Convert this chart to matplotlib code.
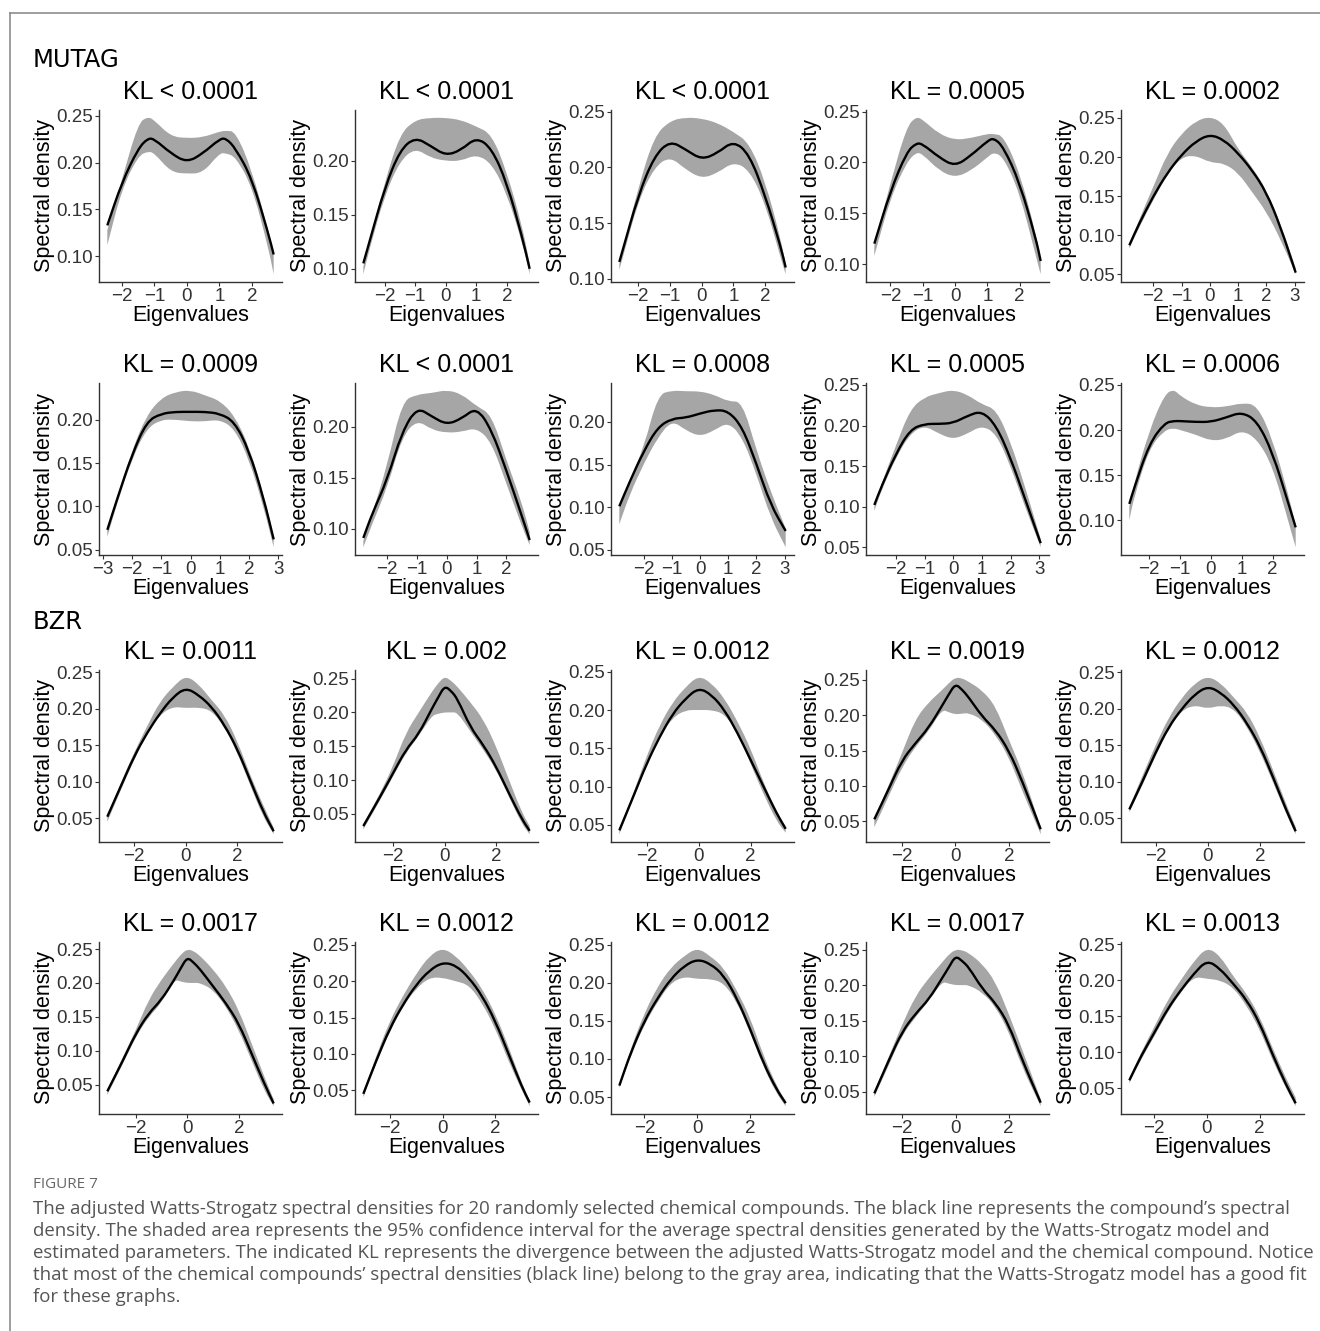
import matplotlib
matplotlib.use("Agg")
import matplotlib.pyplot as plt
from matplotlib.ticker import FormatStrFormatter
from matplotlib.lines import Line2D
from matplotlib.path import Path
from matplotlib.patches import PathPatch

# ---- MUTAG panels (rows 1-2) ----
mutag_titles = ["KL < 0.0001", "KL < 0.0001", "KL < 0.0001", "KL = 0.0005", "KL = 0.0002",
                "KL = 0.0009", "KL < 0.0001", "KL = 0.0008", "KL = 0.0005", "KL = 0.0006"]
mutag_xticks = [[-2, -1, 0, 1, 2], [-2, -1, 0, 1, 2], [-2, -1, 0, 1, 2], [-2, -1, 0, 1, 2],
                [-2, -1, 0, 1, 2, 3], [-3, -2, -1, 0, 1, 2, 3], [-2, -1, 0, 1, 2],
                [-2, -1, 0, 1, 2, 3], [-2, -1, 0, 1, 2, 3], [-2, -1, 0, 1, 2]]
mutag_yticks = [[0.10, 0.15, 0.20, 0.25], [0.10, 0.15, 0.20], [0.10, 0.15, 0.20, 0.25],
                [0.10, 0.15, 0.20, 0.25], [0.05, 0.10, 0.15, 0.20, 0.25], [0.05, 0.10, 0.15, 0.20],
                [0.10, 0.15, 0.20], [0.05, 0.10, 0.15, 0.20], [0.05, 0.10, 0.15, 0.20, 0.25],
                [0.10, 0.15, 0.20, 0.25]]
mutag_x = [
    [-2.45, -2, -1.5, -1.2, -1, -0.5, 0, 0.5, 1, 1.2, 1.5, 2, 2.5, 2.67],
    [-2.7, -2.5, -2, -1.5, -1, -0.5, 0, 0.5, 1, 1.5, 2, 2.5, 2.75],
    [-2.6, -2.5, -2, -1.5, -1, -0.5, 0, 0.5, 1, 1.5, 2, 2.5, 2.65],
    [-2.5, -2, -1.5, -1.2, -1, -0.5, 0, 0.5, 1, 1.2, 1.5, 2, 2.5, 2.65],
    [-2.85, -2.5, -2, -1.5, -1, -0.5, 0, 0.5, 1, 1.5, 2, 2.5, 3.04],
    [-2.85, -2.5, -2, -1.5, -1, -0.5, 0, 0.5, 1, 1.5, 2, 2.5, 2.85],
    [-2.8, -2.5, -2, -1.5, -1, -0.5, 0, 0.5, 1, 1.5, 2, 2.5, 2.78],
    [-2.87, -2.5, -2, -1.5, -1, -0.5, 0, 0.5, 1, 1.5, 2, 2.5, 3.04],
    [-2.75, -2.5, -2, -1.5, -1, -0.5, 0, 0.5, 1, 1.5, 2, 2.5, 3.05],
    [-2.65, -2.5, -2, -1.5, -1.2, -1, -0.5, 0, 0.5, 1, 1.5, 2, 2.5, 2.75],
]
mutag_line = [
    [0.133, 0.179, 0.215, 0.226, 0.225, 0.210, 0.200, 0.210, 0.225, 0.226, 0.215, 0.183, 0.125, 0.102],
    [0.105, 0.125, 0.175, 0.210, 0.222, 0.214, 0.205, 0.210, 0.222, 0.212, 0.180, 0.130, 0.100],
    [0.115, 0.125, 0.175, 0.210, 0.224, 0.216, 0.207, 0.213, 0.224, 0.212, 0.175, 0.128, 0.110],
    [0.120, 0.172, 0.210, 0.219, 0.218, 0.205, 0.196, 0.207, 0.221, 0.224, 0.215, 0.180, 0.125, 0.103],
    [0.087, 0.115, 0.150, 0.180, 0.203, 0.220, 0.229, 0.222, 0.205, 0.183, 0.155, 0.111, 0.052],
    [0.073, 0.110, 0.160, 0.198, 0.207, 0.209, 0.209, 0.209, 0.207, 0.198, 0.165, 0.110, 0.062],
    [0.091, 0.115, 0.148, 0.195, 0.219, 0.210, 0.202, 0.208, 0.219, 0.197, 0.157, 0.114, 0.089],
    [0.101, 0.130, 0.166, 0.194, 0.204, 0.205, 0.210, 0.214, 0.213, 0.194, 0.151, 0.103, 0.072],
    [0.102, 0.125, 0.165, 0.195, 0.202, 0.202, 0.203, 0.212, 0.218, 0.200, 0.160, 0.110, 0.055],
    [0.118, 0.135, 0.185, 0.208, 0.210, 0.210, 0.209, 0.209, 0.214, 0.220, 0.210, 0.175, 0.120, 0.092],
]
mutag_hi = [
    [0.128, 0.182, 0.242, 0.249, 0.245, 0.228, 0.226, 0.227, 0.233, 0.234, 0.233, 0.192, 0.128, 0.103],
    [0.102, 0.125, 0.180, 0.225, 0.238, 0.240, 0.240, 0.238, 0.232, 0.225, 0.190, 0.140, 0.105],
    [0.113, 0.125, 0.182, 0.228, 0.242, 0.245, 0.244, 0.240, 0.232, 0.222, 0.188, 0.135, 0.112],
    [0.118, 0.180, 0.235, 0.245, 0.242, 0.228, 0.222, 0.224, 0.228, 0.228, 0.226, 0.190, 0.130, 0.105],
    [0.088, 0.120, 0.162, 0.205, 0.230, 0.246, 0.252, 0.243, 0.210, 0.187, 0.158, 0.115, 0.058],
    [0.075, 0.112, 0.165, 0.205, 0.225, 0.232, 0.234, 0.228, 0.222, 0.205, 0.170, 0.115, 0.065],
    [0.088, 0.115, 0.162, 0.225, 0.2315, 0.233, 0.236, 0.232, 0.220, 0.212, 0.167, 0.127, 0.097],
    [0.100, 0.132, 0.170, 0.232, 0.237, 0.236, 0.236, 0.232, 0.224, 0.224, 0.167, 0.119, 0.075],
    [0.100, 0.128, 0.175, 0.220, 0.235, 0.240, 0.244, 0.238, 0.226, 0.220, 0.180, 0.125, 0.060],
    [0.115, 0.140, 0.200, 0.240, 0.245, 0.238, 0.228, 0.225, 0.226, 0.230, 0.228, 0.190, 0.130, 0.095],
]
mutag_lo = [
    [0.112, 0.172, 0.207, 0.212, 0.210, 0.190, 0.188, 0.189, 0.210, 0.210, 0.206, 0.175, 0.110, 0.081],
    [0.095, 0.118, 0.168, 0.200, 0.212, 0.203, 0.200, 0.200, 0.206, 0.198, 0.170, 0.125, 0.095],
    [0.108, 0.118, 0.170, 0.200, 0.210, 0.198, 0.190, 0.195, 0.205, 0.198, 0.168, 0.118, 0.104],
    [0.108, 0.165, 0.200, 0.210, 0.208, 0.192, 0.185, 0.192, 0.205, 0.210, 0.205, 0.170, 0.108, 0.090],
    [0.083, 0.110, 0.145, 0.178, 0.200, 0.202, 0.193, 0.192, 0.180, 0.155, 0.130, 0.095, 0.050],
    [0.065, 0.105, 0.155, 0.190, 0.200, 0.200, 0.198, 0.198, 0.200, 0.190, 0.155, 0.100, 0.053],
    [0.082, 0.105, 0.140, 0.190, 0.2067, 0.197, 0.194, 0.195, 0.199, 0.185, 0.144, 0.104, 0.084],
    [0.080, 0.115, 0.151, 0.182, 0.202, 0.190, 0.183, 0.190, 0.200, 0.182, 0.139, 0.088, 0.053],
    [0.095, 0.120, 0.160, 0.190, 0.200, 0.190, 0.183, 0.190, 0.200, 0.190, 0.150, 0.100, 0.050],
    [0.100, 0.125, 0.180, 0.200, 0.202, 0.200, 0.195, 0.188, 0.190, 0.200, 0.190, 0.160, 0.100, 0.070],
]

# ---- BZR panels (rows 3-4) ----
bzr_titles = ["KL = 0.0011", "KL = 0.002", "KL = 0.0012", "KL = 0.0019", "KL = 0.0012",
              "KL = 0.0017", "KL = 0.0012", "KL = 0.0012", "KL = 0.0017", "KL = 0.0013"]
bzr_xticks = [-2, 0, 2]
bzr_yticks = [0.05, 0.10, 0.15, 0.20, 0.25]
bzr_x = [
    [-3.04, -2.5, -2, -1.5, -1, -0.5, 0, 0.5, 1, 1.5, 2, 2.5, 3, 3.41],
    [-3.15, -2.5, -2, -1.5, -1, -0.5, -0.25, 0, 0.25, 0.5, 1, 1.5, 2, 2.5, 3, 3.3],
    [-3.05, -2.5, -2, -1.5, -1, -0.5, 0, 0.5, 1, 1.5, 2, 2.5, 3, 3.35],
    [-3.03, -2.5, -2, -1.5, -1, -0.5, -0.25, 0, 0.25, 0.5, 1, 1.5, 2, 2.5, 3.19],
    [-3.0, -2.5, -2, -1.5, -1, -0.5, 0, 0.5, 1, 1.5, 2, 2.5, 3, 3.35],
    [-3.1, -2.5, -2, -1.5, -1, -0.5, -0.25, 0, 0.25, 0.5, 1, 1.5, 2, 2.5, 3, 3.35],
    [-3.0, -2.5, -2, -1.5, -1, -0.5, 0, 0.5, 1, 1.5, 2, 2.5, 3, 3.3],
    [-2.95, -2.5, -2, -1.5, -1, -0.5, 0, 0.5, 1, 1.5, 2, 2.5, 3, 3.35],
    [-3.05, -2.5, -2, -1.5, -1, -0.5, -0.25, 0, 0.25, 0.5, 1, 1.5, 2, 2.5, 3.2],
    [-2.95, -2.5, -2, -1.5, -1, -0.5, 0, 0.5, 1, 1.5, 2, 2.5, 3, 3.37],
]
bzr_line = [
    [0.052, 0.095, 0.135, 0.167, 0.194, 0.216, 0.229, 0.219, 0.203, 0.178, 0.145, 0.102, 0.059, 0.032],
    [0.032, 0.075, 0.110, 0.145, 0.168, 0.205, 0.222, 0.239, 0.232, 0.220, 0.178, 0.152, 0.120, 0.080, 0.042, 0.025],
    [0.043, 0.088, 0.130, 0.165, 0.195, 0.215, 0.229, 0.220, 0.200, 0.170, 0.135, 0.100, 0.065, 0.045],
    [0.053, 0.095, 0.136, 0.160, 0.182, 0.213, 0.229, 0.244, 0.236, 0.225, 0.198, 0.179, 0.150, 0.107, 0.039],
    [0.062, 0.100, 0.140, 0.175, 0.200, 0.220, 0.231, 0.222, 0.205, 0.180, 0.148, 0.105, 0.060, 0.032],
    [0.040, 0.085, 0.125, 0.155, 0.175, 0.205, 0.222, 0.238, 0.230, 0.220, 0.195, 0.170, 0.140, 0.095, 0.050, 0.022],
    [0.045, 0.092, 0.135, 0.168, 0.195, 0.215, 0.226, 0.222, 0.205, 0.180, 0.145, 0.100, 0.055, 0.033],
    [0.065, 0.110, 0.150, 0.180, 0.205, 0.222, 0.231, 0.225, 0.210, 0.180, 0.140, 0.095, 0.060, 0.042],
    [0.048, 0.095, 0.135, 0.160, 0.180, 0.210, 0.225, 0.241, 0.234, 0.225, 0.195, 0.175, 0.145, 0.095, 0.035],
    [0.061, 0.095, 0.127, 0.160, 0.186, 0.209, 0.228, 0.216, 0.195, 0.173, 0.141, 0.096, 0.055, 0.029],
]
bzr_hi = [
    [0.054, 0.100, 0.140, 0.176, 0.210, 0.230, 0.246, 0.234, 0.212, 0.192, 0.156, 0.109, 0.068, 0.037],
    [0.035, 0.080, 0.120, 0.170, 0.200, 0.230, 0.243, 0.253, 0.247, 0.238, 0.215, 0.190, 0.150, 0.100, 0.052, 0.032],
    [0.045, 0.092, 0.140, 0.180, 0.210, 0.230, 0.245, 0.235, 0.215, 0.185, 0.150, 0.105, 0.068, 0.048],
    [0.055, 0.100, 0.146, 0.194, 0.218, 0.235, 0.245, 0.253, 0.252, 0.247, 0.235, 0.213, 0.165, 0.121, 0.042],
    [0.065, 0.108, 0.150, 0.188, 0.215, 0.235, 0.245, 0.235, 0.215, 0.195, 0.160, 0.115, 0.068, 0.038],
    [0.042, 0.090, 0.130, 0.175, 0.205, 0.230, 0.242, 0.250, 0.247, 0.240, 0.220, 0.195, 0.160, 0.110, 0.060, 0.028],
    [0.047, 0.098, 0.145, 0.180, 0.210, 0.235, 0.246, 0.235, 0.215, 0.190, 0.155, 0.110, 0.060, 0.036],
    [0.067, 0.115, 0.160, 0.195, 0.220, 0.235, 0.246, 0.235, 0.220, 0.190, 0.155, 0.105, 0.065, 0.045],
    [0.050, 0.100, 0.145, 0.185, 0.210, 0.232, 0.243, 0.250, 0.249, 0.245, 0.230, 0.205, 0.160, 0.110, 0.040],
    [0.063, 0.100, 0.135, 0.172, 0.200, 0.226, 0.246, 0.234, 0.205, 0.182, 0.150, 0.105, 0.064, 0.037],
]
bzr_lo = [
    [0.045, 0.090, 0.130, 0.166, 0.192, 0.203, 0.201, 0.202, 0.198, 0.175, 0.140, 0.095, 0.052, 0.028],
    [0.027, 0.070, 0.105, 0.140, 0.165, 0.195, 0.198, 0.200, 0.200, 0.200, 0.172, 0.145, 0.115, 0.075, 0.035, 0.020],
    [0.038, 0.085, 0.130, 0.165, 0.190, 0.200, 0.200, 0.200, 0.195, 0.170, 0.130, 0.090, 0.055, 0.040],
    [0.042, 0.085, 0.126, 0.155, 0.177, 0.208, 0.204, 0.201, 0.202, 0.203, 0.194, 0.172, 0.141, 0.093, 0.032],
    [0.058, 0.095, 0.135, 0.172, 0.198, 0.205, 0.200, 0.205, 0.200, 0.175, 0.140, 0.098, 0.055, 0.028],
    [0.035, 0.080, 0.120, 0.150, 0.170, 0.205, 0.202, 0.200, 0.200, 0.200, 0.190, 0.165, 0.130, 0.085, 0.040, 0.018],
    [0.040, 0.088, 0.130, 0.165, 0.190, 0.205, 0.205, 0.200, 0.195, 0.170, 0.135, 0.090, 0.050, 0.028],
    [0.062, 0.105, 0.145, 0.175, 0.200, 0.208, 0.205, 0.205, 0.200, 0.175, 0.135, 0.090, 0.055, 0.038],
    [0.043, 0.088, 0.130, 0.155, 0.178, 0.205, 0.202, 0.200, 0.200, 0.200, 0.190, 0.170, 0.135, 0.085, 0.030],
    [0.057, 0.090, 0.122, 0.155, 0.183, 0.205, 0.202, 0.200, 0.190, 0.165, 0.132, 0.088, 0.050, 0.025],
]

caption = [
    "The adjusted Watts-Strogatz spectral densities for 20 randomly selected chemical compounds. The black line represents the compound\u2019s spectral",
    "density. The shaded area represents the 95% confidence interval for the average spectral densities generated by the Watts-Strogatz model and",
    "estimated parameters. The indicated KL represents the divergence between the adjusted Watts-Strogatz model and the chemical compound. Notice",
    "that most of the chemical compounds\u2019 spectral densities (black line) belong to the gray area, indicating that the Watts-Strogatz model has a good fit",
    "for these graphs.",
]

plt.rcParams['font.family'] = ['Liberation Sans', 'DejaVu Sans']

W, H = 1320, 1331
fig = plt.figure(figsize=(W / 100, H / 100), dpi=100)

col_left = [99, 355, 611, 866, 1121]
row_top = [110, 383, 670, 942]
aw, ah = 183, 172


def curve(xs, ys):
    # smooth quadratic path through the midpoints, points act as controls
    pts = list(zip(xs, ys))
    mid = lambda a, b: ((a[0] + b[0]) / 2, (a[1] + b[1]) / 2)
    v = [pts[0], mid(pts[0], pts[1])]
    c = [Path.MOVETO, Path.LINETO]
    for i in range(1, len(pts) - 1):
        v += [pts[i], mid(pts[i], pts[i + 1])]
        c += [Path.CURVE3, Path.CURVE3]
    v.append(pts[-1])
    c.append(Path.LINETO)
    return v, c


def panel(ax, x, y, lo, hi, title, xt, yt):
    vu, cu = curve(x, hi)
    vl, cl = curve(x[::-1], lo[::-1])
    cl[0] = Path.LINETO
    band = Path(vu + vl + [vu[0]], cu + cl + [Path.CLOSEPOLY])
    ax.add_patch(PathPatch(band, facecolor="#a6a6a6", edgecolor="none", zorder=1))
    vv, cc = curve(x, y)
    ax.add_patch(PathPatch(Path(vv, cc), fill=False, edgecolor="black", lw=1.7,
                           joinstyle="round", capstyle="butt", zorder=2))
    ax.autoscale_view()
    xl, yl = ax.get_xlim(), ax.get_ylim()
    ax.set_xticks(xt)
    ax.set_yticks(yt)
    ax.set_xlim(xl)
    ax.set_ylim(yl)
    ax.yaxis.set_major_formatter(FormatStrFormatter("%.2f"))
    ax.set_title(title, fontsize=18, pad=8)
    ax.set_xlabel("Eigenvalues", fontsize=15.5, labelpad=0)
    ax.set_ylabel("Spectral density", fontsize=15.5, labelpad=1)
    for s in ["top", "right"]:
        ax.spines[s].set_visible(False)
    for s in ["left", "bottom"]:
        ax.spines[s].set_color("#333333")
        ax.spines[s].set_linewidth(1.0)
    ax.tick_params(length=3, width=0.8, color="#333333", labelcolor="#333333",
                   labelsize=13.5, pad=1.5)


for k in range(20):
    r, c = divmod(k, 5)
    ax = fig.add_axes([col_left[c] / W, 1 - (row_top[r] + ah) / H, aw / W, ah / H])
    if k < 10:
        panel(ax, mutag_x[k], mutag_line[k], mutag_lo[k], mutag_hi[k], mutag_titles[k],
              mutag_xticks[k], mutag_yticks[k])
    else:
        j = k - 10
        panel(ax, bzr_x[j], bzr_line[j], bzr_lo[j], bzr_hi[j], bzr_titles[j],
              bzr_xticks, bzr_yticks)

fig.text(33 / W, 1 - 60 / H, "MUTAG", fontsize=17.5, family="DejaVu Sans", va="center")
fig.text(33 / W, 1 - 622 / H, "BZR", fontsize=17.5, family="DejaVu Sans", va="center")

# caption
fig.text(33 / W, 1 - 1184 / H, "FIGURE 7", fontsize=11, family="Open Sans", color="#666666", va="center")
for i, line in enumerate(caption):
    fig.text(33 / W, 1 - (1209 + 22 * i) / H, line, fontsize=13.4, family="Open Sans",
             color="#555555", va="center")

# outer frame
fig.add_artist(Line2D([10 / W, 10 / W], [0, 1 - 13 / H], transform=fig.transFigure, color="#8c8c8c", lw=1.2))
fig.add_artist(Line2D([10 / W, 1], [1 - 13 / H, 1 - 13 / H], transform=fig.transFigure, color="#8c8c8c", lw=1.2))

fig.savefig("out.png", dpi=100)
